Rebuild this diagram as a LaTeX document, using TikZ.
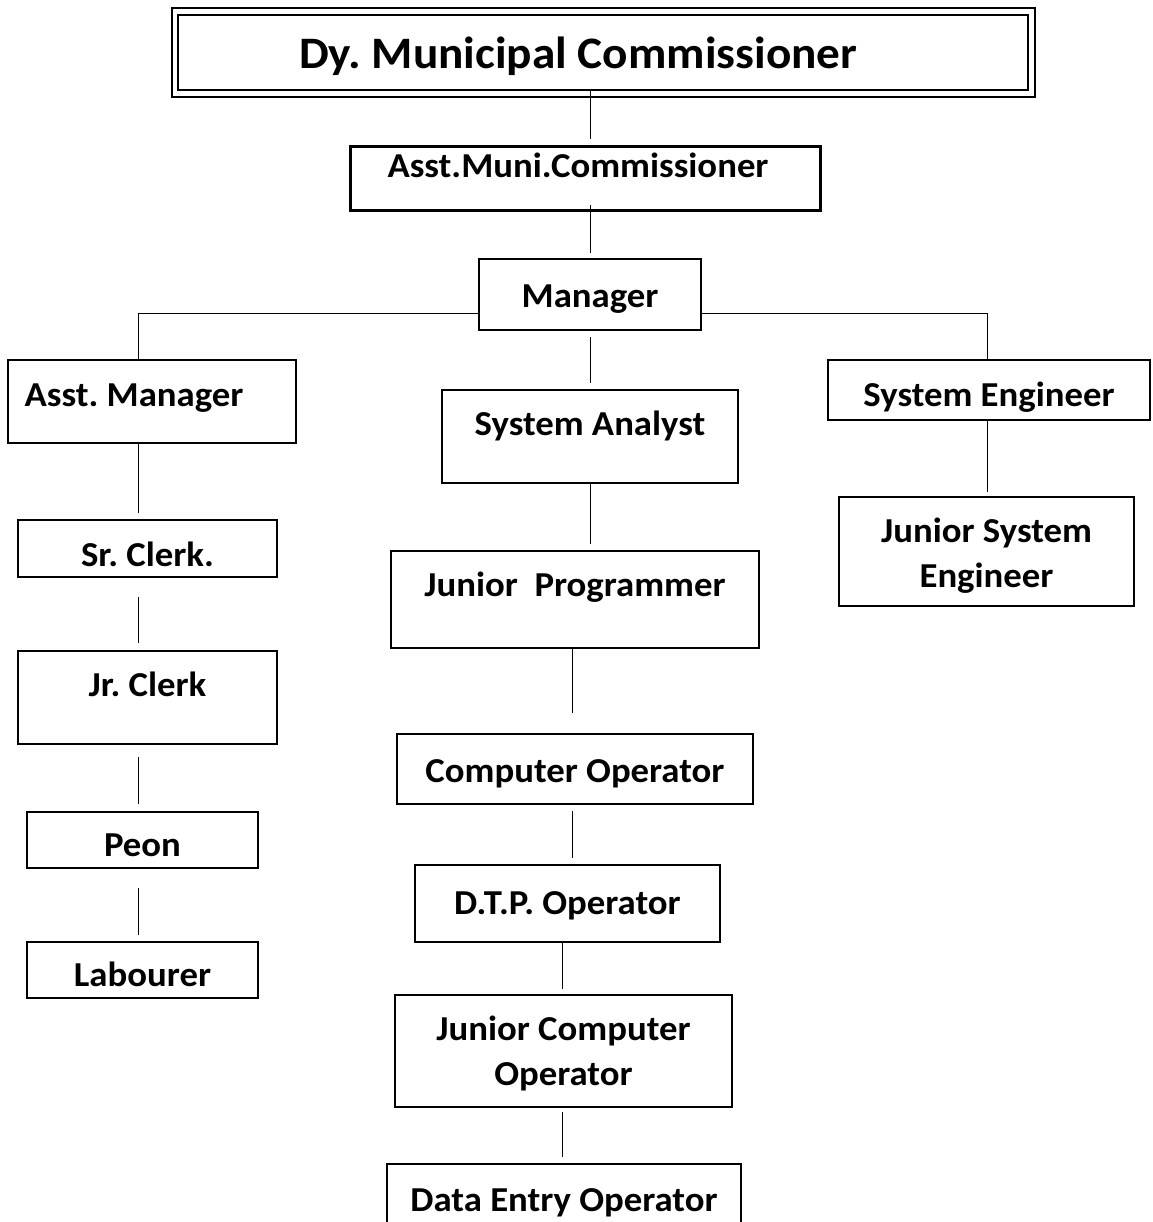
\documentclass[tikz,border=0pt]{standalone}
\usepackage{fontspec}
\setmainfont{Carlito}[FakeStretch=1.05]
\frenchspacing
\newcommand\postfont{\bfseries\fontsize{35}{44.5}\selectfont}
\newcommand\headfont{\bfseries\fontsize{45}{50}\selectfont}
\tikzset{
    post/.style={draw, line width=1.8pt, inner sep=2pt, outer sep=0pt, font=\postfont, text height=23pt, text depth=1pt},
    link/.style={line width=1pt}
}

\begin{document}
\begin{tikzpicture}[x=1pt, y=-1pt]
        \useasboundingbox(0,0)rectangle(1152,1222);
        \fill[white](0,0)rectangle(1152,1222);
        % columns of the connectors
        \coordinate (colL) at (138,0);
        \coordinate (colM) at (590,0);
        \coordinate (colC) at (572,0);
        \coordinate (colD) at (562,0);
        \coordinate (colR) at (987,0);
        \coordinate (bus) at (0,313);

        \node[post, double, line width=1.8pt, double distance=4.5pt, font=\headfont, text height=34pt, minimum width=856.5pt, minimum height=82pt](dmc) at (603.25,52.5){Dy. Municipal Commissioner\hspace*{50pt}};
        \node[post, line width=3pt, text depth=24pt, minimum width=470pt, minimum height=64pt](amc) at (585,178.5){Asst.Muni.Commissioner\hspace*{14pt}};
        \node[post, text height=26pt, minimum width=222pt, minimum height=71pt](mgr) at (590,294.5){Manager};

        % left column
        \node[post, text depth=14pt, minimum width=288pt, minimum height=83pt](asstmgr) at (152,401.5){Asst. Manager\hspace*{36pt}};
        \node[post, text height=36pt, minimum width=259pt, minimum height=57pt](srclerk) at (147.5,548.5){Sr. Clerk.};
        \node[post, text depth=26pt, minimum width=259pt, minimum height=93pt](jrclerk) at (147.5,697.5){Jr. Clerk};
        \node[post, text height=33pt, minimum width=231pt, minimum height=56pt](peon) at (142.5,840){Peon};
        \node[post, text height=33pt, minimum width=231pt, minimum height=56pt](labourer) at (142.5,970){Labourer};

        % middle column
        \node[post, text depth=26pt, minimum width=296pt, minimum height=93pt](sa) at (590,436.5){System Analyst};
        \node[post, text depth=30pt, minimum width=368pt, minimum height=97pt](jp) at (575,599.5){Junior\ \ Programmer};
        \node[post, text height=27pt, minimum width=356pt, minimum height=70pt](co) at (575,769){Computer Operator};
        \node[post, minimum width=305pt, minimum height=77pt](dtp) at (567.5,903.5){D.T.P. Operator};
        \node[post, align=center, text height=77pt, text depth=9pt, minimum width=337pt, minimum height=112pt](jco) at (563.5,1051){Junior Computer\\Operator};
        \node[post, text height=27pt, minimum width=354pt, minimum height=68pt](deo) at (564,1198){Data Entry Operator};

        % right column
        \node[post, text height=33pt, minimum width=322pt, minimum height=60pt](se) at (989,390){System Engineer};
        \node[post, align=center, text height=80pt, text depth=9pt, minimum width=295pt, minimum height=109pt](jse) at (986.5,551.5){Junior System\\Engineer};

        \draw[link, shorten <=-3.5pt, shorten >=7.5pt](dmc.south -| colM)--(amc.north -| colM);
        \draw[link, shorten <=-5.5pt, shorten >=6pt](amc.south -| colM)--(mgr.north -| colM);
        \draw[link](mgr.west |- bus)-|(colL |- asstmgr.north);
        \draw[link](mgr.east |- bus)-|(colR |- se.north);
        \draw[link, shorten <=7pt, shorten >=7pt](mgr.south -| colM)--(sa.north -| colM);
        \draw[link, shorten >=7pt](sa.south -| colM)--(jp.north -| colM);
        \draw[link, shorten >=21pt](jp.south -| colC)--(co.north -| colC);
        \draw[link, shorten <=7pt, shorten >=7pt](co.south -| colC)--(dtp.north -| colC);
        \draw[link, shorten >=6pt](dtp.south -| colD)--(jco.north -| colD);
        \draw[link, shorten <=5pt, shorten >=7pt](jco.south -| colD)--(deo.north -| colD);
        \draw[link, shorten >=7pt](asstmgr.south -| colL)--(srclerk.north -| colL);
        \draw[link, shorten <=20pt, shorten >=8pt](srclerk.south -| colL)--(jrclerk.north -| colL);
        \draw[link, shorten <=13pt, shorten >=8pt](jrclerk.south -| colL)--(peon.north -| colL);
        \draw[link, shorten <=20pt, shorten >=7pt](peon.south -| colL)--(labourer.north -| colL);
        \draw[link, shorten >=5pt](se.south -| colR)--(jse.north -| colR);
    \end{tikzpicture}
\end{document}
